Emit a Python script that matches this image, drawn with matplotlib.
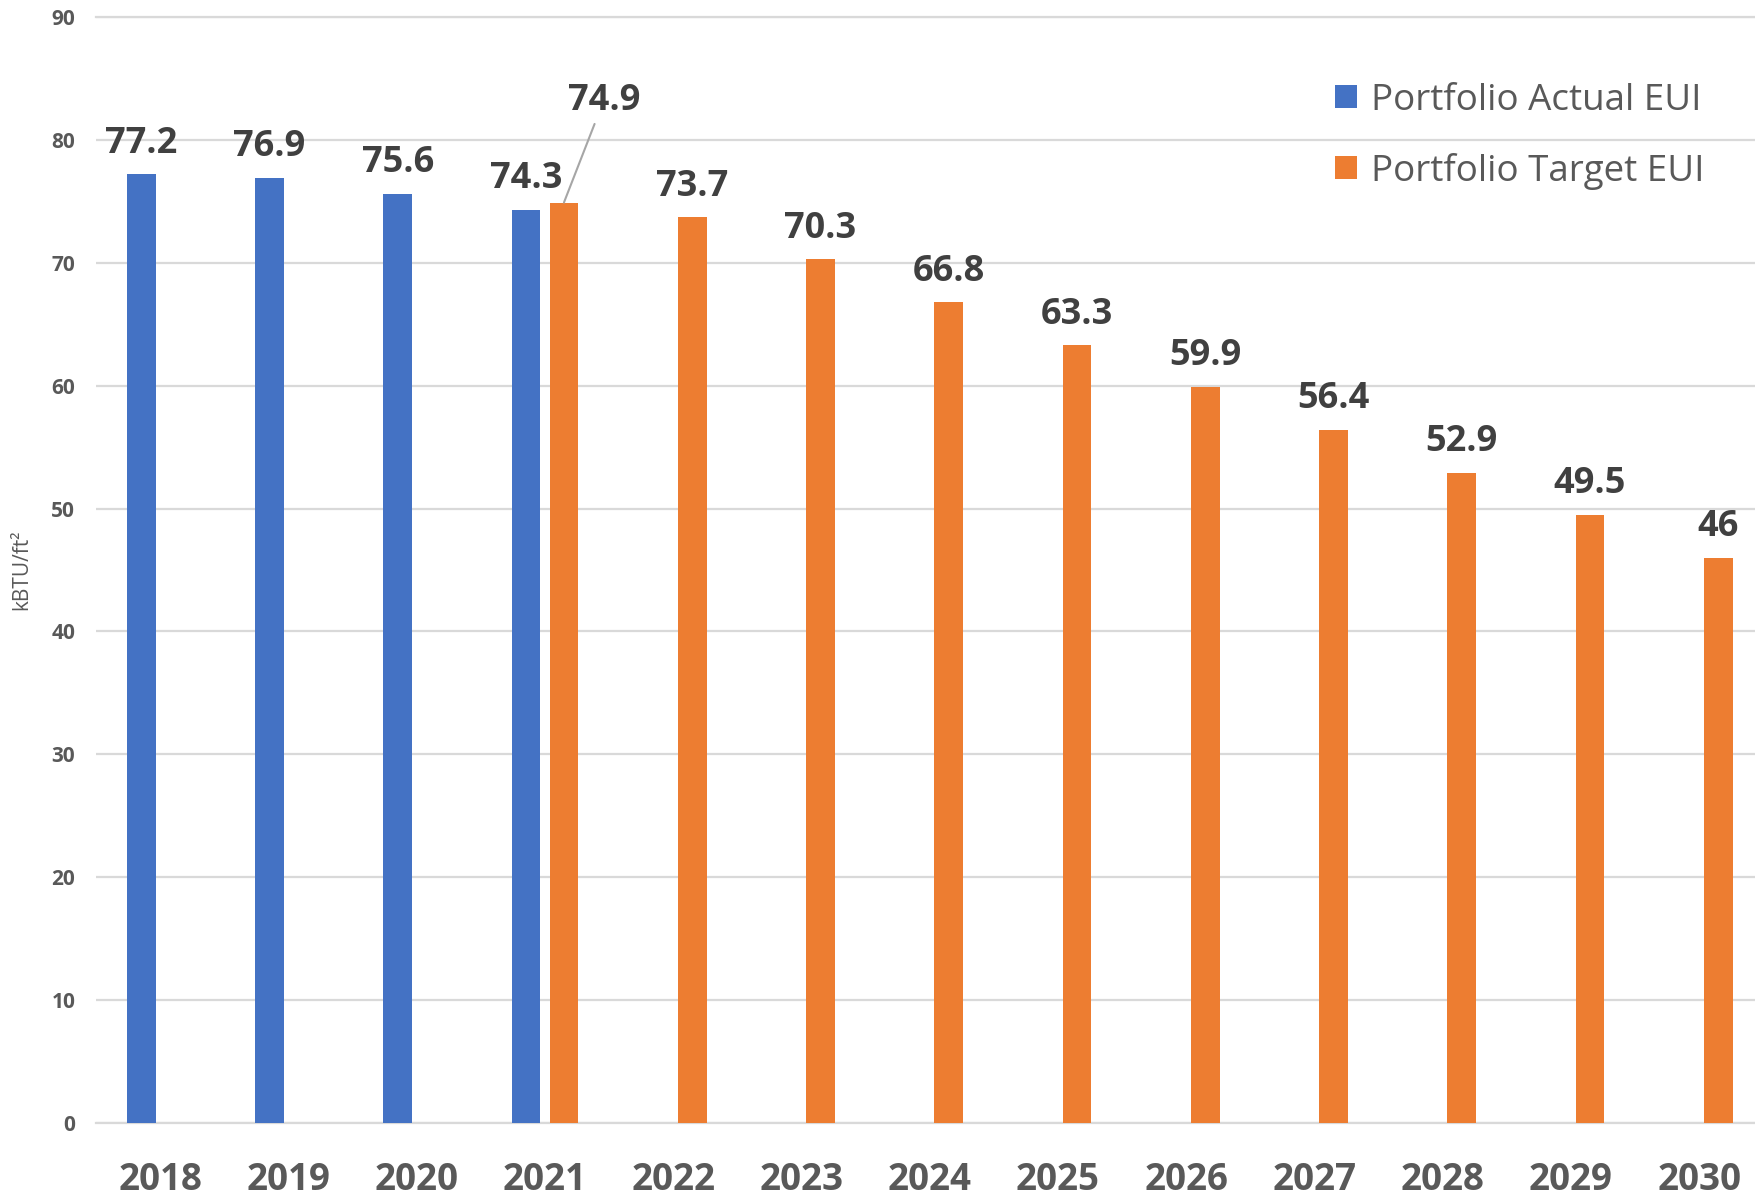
import matplotlib
matplotlib.use("Agg")
import matplotlib.pyplot as plt
import numpy as np
from matplotlib.patches import Patch

plt.rcParams['font.family'] = ['Open Sans', 'DejaVu Sans']

# data
years = ['2018', '2019', '2020', '2021', '2022', '2023', '2024',
         '2025', '2026', '2027', '2028', '2029', '2030']
actual_eui = [77.2, 76.9, 75.6, 74.3, np.nan, np.nan, np.nan,
              np.nan, np.nan, np.nan, np.nan, np.nan, np.nan]
target_eui = [np.nan, np.nan, np.nan, 74.9, 73.7, 70.3, 66.8,
              63.3, 59.9, 56.4, 52.9, 49.5, 46]

blue = '#4472C4'
orange = '#ED7D31'
grid_col = '#D9D9D9'
tick_col = '#595959'
label_col = '#404040'

fig = plt.figure(figsize=(17.56, 11.98), dpi=100)
ax = fig.add_axes([0.0547, 0.0626, 0.9495, 0.9232])

x = np.arange(len(years))
bw = 0.225
off = 0.148
ax.bar(x - off, actual_eui, width=bw, color=blue, zorder=3)
ax.bar(x + off, target_eui, width=bw, color=orange, zorder=3)

# value labels above bars
for xi, v in zip(x - off, actual_eui):
    if not np.isnan(v):
        ax.annotate(f'{v:g}', xy=(xi, v), xytext=(0, 15.5), textcoords='offset points',
                    ha='center', va='baseline', fontsize=26, fontweight='bold', color=label_col)
for i, (xi, v) in enumerate(zip(x + off, target_eui)):
    if np.isnan(v):
        continue
    if years[i] == '2021':
        # callout label, pulled up and right so it doesn't collide with 74.3
        ax.annotate(f'{v:g}', xy=(xi, v), xytext=(xi + 0.31, 83.2), textcoords='data',
                    ha='center', va='center', fontsize=26, fontweight='bold', color=label_col,
                    arrowprops=dict(arrowstyle='-', color='#A6A6A6', lw=1.5,
                                    shrinkA=2, shrinkB=0))
    else:
        ax.annotate(f'{v:g}', xy=(xi, v), xytext=(0, 15.5), textcoords='offset points',
                    ha='center', va='baseline', fontsize=26, fontweight='bold', color=label_col)

ax.set_xlim(-0.5, len(years) - 0.5)
ax.set_ylim(0, 90)
ax.set_yticks(np.arange(0, 91, 10))
ax.set_xticks(x)
ax.set_xticklabels(years)

ax.yaxis.grid(True, color=grid_col, lw=1.6, zorder=0)
ax.set_axisbelow(True)
for s in ['left', 'right']:
    ax.spines[s].set_visible(False)
for s in ['top', 'bottom']:
    ax.spines[s].set_color(grid_col)
    ax.spines[s].set_linewidth(1.6)

ax.tick_params(axis='y', length=0, pad=15, labelsize=15, labelcolor=tick_col)
ax.tick_params(axis='x', length=0, pad=27, labelsize=26.5, labelcolor=tick_col)
for t in ax.get_yticklabels() + ax.get_xticklabels():
    t.set_fontweight('bold')

fig.text(22 / 1756, 0.524, 'kBTU/ft²', rotation=90, ha='center', va='center',
         fontsize=15, color=tick_col)

handles = [Patch(facecolor=blue, label='Portfolio Actual EUI'),
           Patch(facecolor=orange, label='Portfolio Target EUI')]
fig.legend(handles=handles, loc='upper left', bbox_to_anchor=(0.760, 0.931),
           bbox_transform=fig.transFigure, frameon=False, fontsize=26.5,
           labelcolor=tick_col, handlelength=0.6, handleheight=0.6,
           handletextpad=0.4, labelspacing=0.92, borderpad=0, borderaxespad=0)

fig.savefig('out.png', dpi=100)
